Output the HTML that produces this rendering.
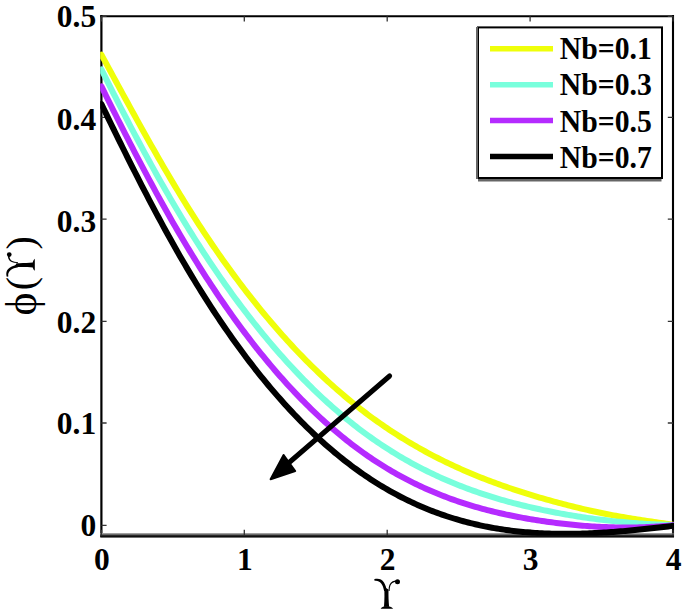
<!DOCTYPE html>
<html><head><meta charset="utf-8"><style>html,body{margin:0;padding:0;background:#fff;}svg{display:block;}</style></head>
<body><svg width="685" height="614" viewBox="0 0 685 614">
<rect width="685" height="614" fill="#fff"/>
<defs><clipPath id="ax"><rect x="100.2" y="16.3" width="573.8" height="519.4"/></clipPath></defs>
<g fill="none" stroke="#000">
<line x1="101.40" y1="15" x2="101.40" y2="537" stroke-width="2.2"/>
<line x1="673" y1="15" x2="673" y2="537" stroke-width="2.1"/>
<line x1="100.3" y1="16.3" x2="674" y2="16.3" stroke-width="2.1"/>
</g>
<rect x="100.3" y="533" width="573.7" height="1" fill="#a0a0a0"/>
<rect x="100.3" y="534" width="573.7" height="1" fill="#6a6a6a"/>
<rect x="100.3" y="535" width="573.7" height="1" fill="#2a2a2a"/>
<rect x="100.3" y="536" width="573.7" height="1" fill="#0e0e0e"/>
<rect x="100.3" y="537" width="573.7" height="1" fill="#707070"/>
<path d="M101.40 525.40H106.60 M673.00 525.40H667.80 M101.40 423.00H106.60 M673.00 423.00H667.80 M101.40 321.30H106.60 M673.00 321.30H667.80 M101.40 219.10H106.60 M673.00 219.10H667.80 M101.40 117.30H106.60 M673.00 117.30H667.80 M101.40 16.30H106.60 M673.00 16.30H667.80 M101.40 535.00V529.80 M101.40 16.30V21.50 M244.30 535.00V529.80 M244.30 16.30V21.50 M387.20 535.00V529.80 M387.20 16.30V21.50 M530.10 535.00V529.80 M530.10 16.30V21.50 M673.00 535.00V529.80 M673.00 16.30V21.50" stroke="#333" stroke-width="1.3" fill="none"/>
<g clip-path="url(#ax)" fill="none" stroke-width="6" stroke-linejoin="round" stroke-linecap="round">
<polyline points="101.40,54.67 103.78,59.06 106.16,63.44 108.55,67.83 110.93,72.21 113.31,76.59 115.69,80.97 118.07,85.35 120.45,89.72 122.84,94.09 125.22,98.45 127.60,102.80 129.98,107.14 132.36,111.47 134.74,115.79 137.12,120.10 139.51,124.40 141.89,128.68 144.27,132.95 146.65,137.20 149.03,141.44 151.42,145.65 153.80,149.85 156.18,154.03 158.56,158.19 160.94,162.32 163.32,166.44 165.71,170.52 168.09,174.59 170.47,178.63 172.85,182.64 175.23,186.62 177.61,190.57 180.00,194.49 182.38,198.39 184.76,202.25 187.14,206.08 189.52,209.88 191.90,213.65 194.29,217.39 196.67,221.09 199.05,224.77 201.43,228.42 203.81,232.04 206.19,235.62 208.58,239.18 210.96,242.71 213.34,246.20 215.72,249.67 218.10,253.11 220.48,256.52 222.87,259.90 225.25,263.25 227.63,266.57 230.01,269.87 232.39,273.13 234.77,276.36 237.16,279.57 239.54,282.75 241.92,285.90 244.30,289.02 246.68,292.11 249.06,295.17 251.45,298.21 253.83,301.22 256.21,304.20 258.59,307.15 260.97,310.08 263.35,312.98 265.74,315.85 268.12,318.69 270.50,321.50 272.88,324.29 275.26,327.05 277.64,329.79 280.02,332.50 282.41,335.18 284.79,337.83 287.17,340.46 289.55,343.06 291.93,345.64 294.32,348.19 296.70,350.71 299.08,353.21 301.46,355.68 303.84,358.12 306.22,360.54 308.61,362.94 310.99,365.31 313.37,367.65 315.75,369.97 318.13,372.26 320.51,374.53 322.89,376.77 325.28,378.99 327.66,381.19 330.04,383.36 332.42,385.50 334.80,387.62 337.19,389.72 339.57,391.79 341.95,393.84 344.33,395.86 346.71,397.86 349.09,399.84 351.48,401.79 353.86,403.72 356.24,405.62 358.62,407.51 361.00,409.36 363.38,411.20 365.76,413.01 368.15,414.80 370.53,416.57 372.91,418.32 375.29,420.04 377.67,421.74 380.06,423.42 382.44,425.08 384.82,426.72 387.20,428.33 389.58,429.93 391.96,431.50 394.35,433.06 396.73,434.59 399.11,436.10 401.49,437.60 403.87,439.07 406.25,440.53 408.63,441.97 411.02,443.38 413.40,444.78 415.78,446.16 418.16,447.52 420.54,448.87 422.93,450.19 425.31,451.50 427.69,452.79 430.07,454.06 432.45,455.32 434.83,456.56 437.22,457.78 439.60,458.99 441.98,460.18 444.36,461.35 446.74,462.51 449.12,463.65 451.50,464.78 453.89,465.89 456.27,466.98 458.65,468.07 461.03,469.13 463.41,470.19 465.80,471.22 468.18,472.25 470.56,473.26 472.94,474.26 475.32,475.24 477.70,476.21 480.09,477.17 482.47,478.11 484.85,479.05 487.23,479.97 489.61,480.87 491.99,481.77 494.38,482.65 496.76,483.53 499.14,484.39 501.52,485.24 503.90,486.08 506.28,486.91 508.67,487.72 511.05,488.53 513.43,489.33 515.81,490.12 518.19,490.90 520.57,491.67 522.96,492.43 525.34,493.18 527.72,493.92 530.10,494.65 532.48,495.38 534.86,496.10 537.25,496.81 539.63,497.51 542.01,498.20 544.39,498.89 546.77,499.56 549.15,500.24 551.54,500.90 553.92,501.55 556.30,502.20 558.68,502.84 561.06,503.47 563.44,504.10 565.83,504.72 568.21,505.33 570.59,505.93 572.97,506.52 575.35,507.10 577.73,507.68 580.12,508.25 582.50,508.81 584.88,509.36 587.26,509.91 589.64,510.45 592.02,510.97 594.41,511.49 596.79,512.01 599.17,512.51 601.55,513.01 603.93,513.49 606.31,513.97 608.70,514.44 611.08,514.90 613.46,515.36 615.84,515.80 618.22,516.24 620.60,516.67 622.99,517.08 625.37,517.50 627.75,517.90 630.13,518.29 632.51,518.68 634.89,519.05 637.27,519.42 639.66,519.79 642.04,520.15 644.42,520.50 646.80,520.85 649.18,521.21 651.57,521.55 653.95,521.90 656.33,522.25 658.71,522.60 661.09,522.96 663.47,523.32 665.86,523.68 668.24,524.05 670.62,524.42 673.00,524.80" stroke="#EFFF0A"/>
<polyline points="101.40,69.46 103.78,74.21 106.16,78.95 108.55,83.68 110.93,88.38 113.31,93.07 115.69,97.73 118.07,102.38 120.45,107.00 122.84,111.61 125.22,116.19 127.60,120.76 129.98,125.30 132.36,129.82 134.74,134.31 137.12,138.78 139.51,143.23 141.89,147.66 144.27,152.06 146.65,156.43 149.03,160.78 151.42,165.10 153.80,169.40 156.18,173.67 158.56,177.91 160.94,182.13 163.32,186.31 165.71,190.47 168.09,194.60 170.47,198.70 172.85,202.77 175.23,206.81 177.61,210.82 180.00,214.79 182.38,218.74 184.76,222.65 187.14,226.53 189.52,230.38 191.90,234.20 194.29,237.99 196.67,241.74 199.05,245.47 201.43,249.16 203.81,252.82 206.19,256.46 208.58,260.06 210.96,263.63 213.34,267.17 215.72,270.67 218.10,274.15 220.48,277.60 222.87,281.02 225.25,284.41 227.63,287.76 230.01,291.09 232.39,294.39 234.77,297.65 237.16,300.89 239.54,304.10 241.92,307.28 244.30,310.43 246.68,313.55 249.06,316.64 251.45,319.70 253.83,322.73 256.21,325.73 258.59,328.70 260.97,331.65 263.35,334.56 265.74,337.45 268.12,340.31 270.50,343.14 272.88,345.94 275.26,348.71 277.64,351.45 280.02,354.17 282.41,356.86 284.79,359.52 287.17,362.15 289.55,364.75 291.93,367.33 294.32,369.87 296.70,372.40 299.08,374.89 301.46,377.35 303.84,379.79 306.22,382.20 308.61,384.59 310.99,386.94 313.37,389.27 315.75,391.57 318.13,393.85 320.51,396.10 322.89,398.32 325.28,400.52 327.66,402.68 330.04,404.83 332.42,406.94 334.80,409.03 337.19,411.10 339.57,413.13 341.95,415.15 344.33,417.13 346.71,419.09 349.09,421.03 351.48,422.93 353.86,424.82 356.24,426.68 358.62,428.51 361.00,430.31 363.38,432.10 365.76,433.85 368.15,435.58 370.53,437.29 372.91,438.97 375.29,440.63 377.67,442.27 380.06,443.88 382.44,445.47 384.82,447.03 387.20,448.57 389.58,450.09 391.96,451.59 394.35,453.06 396.73,454.52 399.11,455.95 401.49,457.35 403.87,458.74 406.25,460.11 408.63,461.45 411.02,462.78 413.40,464.08 415.78,465.36 418.16,466.62 420.54,467.87 422.93,469.09 425.31,470.29 427.69,471.48 430.07,472.64 432.45,473.79 434.83,474.91 437.22,476.02 439.60,477.11 441.98,478.18 444.36,479.24 446.74,480.28 449.12,481.30 451.50,482.30 453.89,483.28 456.27,484.25 458.65,485.21 461.03,486.14 463.41,487.06 465.80,487.97 468.18,488.85 470.56,489.73 472.94,490.58 475.32,491.43 477.70,492.26 480.09,493.07 482.47,493.87 484.85,494.65 487.23,495.42 489.61,496.18 491.99,496.93 494.38,497.66 496.76,498.37 499.14,499.08 501.52,499.77 503.90,500.45 506.28,501.12 508.67,501.77 511.05,502.42 513.43,503.05 515.81,503.67 518.19,504.28 520.57,504.88 522.96,505.47 525.34,506.04 527.72,506.61 530.10,507.17 532.48,507.72 534.86,508.26 537.25,508.78 539.63,509.30 542.01,509.82 544.39,510.32 546.77,510.81 549.15,511.29 551.54,511.77 553.92,512.24 556.30,512.69 558.68,513.14 561.06,513.58 563.44,514.02 565.83,514.44 568.21,514.85 570.59,515.26 572.97,515.66 575.35,516.05 577.73,516.43 580.12,516.80 582.50,517.16 584.88,517.52 587.26,517.86 589.64,518.20 592.02,518.53 594.41,518.85 596.79,519.17 599.17,519.47 601.55,519.77 603.93,520.06 606.31,520.34 608.70,520.61 611.08,520.88 613.46,521.13 615.84,521.38 618.22,521.62 620.60,521.85 622.99,522.08 625.37,522.29 627.75,522.50 630.13,522.70 632.51,522.90 634.89,523.08 637.27,523.26 639.66,523.43 642.04,523.59 644.42,523.74 646.80,523.89 649.18,524.03 651.57,524.16 653.95,524.28 656.33,524.40 658.71,524.51 661.09,524.61 663.47,524.70 665.86,524.79 668.24,524.87 670.62,524.94 673.00,525.00" stroke="#78FFDC"/>
<polyline points="101.40,86.39 103.78,91.19 106.16,95.99 108.55,100.77 110.93,105.53 113.31,110.29 115.69,115.02 118.07,119.74 120.45,124.45 122.84,129.13 125.22,133.80 127.60,138.45 129.98,143.08 132.36,147.70 134.74,152.29 137.12,156.86 139.51,161.40 141.89,165.93 144.27,170.43 146.65,174.91 149.03,179.36 151.42,183.79 153.80,188.19 156.18,192.56 158.56,196.91 160.94,201.23 163.32,205.52 165.71,209.78 168.09,214.02 170.47,218.22 172.85,222.39 175.23,226.53 177.61,230.63 180.00,234.70 182.38,238.74 184.76,242.75 187.14,246.72 189.52,250.66 191.90,254.56 194.29,258.43 196.67,262.27 199.05,266.07 201.43,269.84 203.81,273.58 206.19,277.28 208.58,280.95 210.96,284.59 213.34,288.20 215.72,291.77 218.10,295.31 220.48,298.82 222.87,302.29 225.25,305.74 227.63,309.15 230.01,312.52 232.39,315.87 234.77,319.18 237.16,322.47 239.54,325.72 241.92,328.93 244.30,332.12 246.68,335.28 249.06,338.40 251.45,341.49 253.83,344.55 256.21,347.58 258.59,350.58 260.97,353.54 263.35,356.48 265.74,359.39 268.12,362.26 270.50,365.10 272.88,367.91 275.26,370.70 277.64,373.45 280.02,376.17 282.41,378.86 284.79,381.52 287.17,384.15 289.55,386.75 291.93,389.32 294.32,391.86 296.70,394.37 299.08,396.85 301.46,399.30 303.84,401.72 306.22,404.11 308.61,406.47 310.99,408.81 313.37,411.11 315.75,413.38 318.13,415.63 320.51,417.84 322.89,420.03 325.28,422.19 327.66,424.32 330.04,426.42 332.42,428.49 334.80,430.54 337.19,432.55 339.57,434.54 341.95,436.50 344.33,438.43 346.71,440.33 349.09,442.20 351.48,444.05 353.86,445.87 356.24,447.66 358.62,449.42 361.00,451.16 363.38,452.87 365.76,454.55 368.15,456.20 370.53,457.83 372.91,459.43 375.29,461.00 377.67,462.55 380.06,464.08 382.44,465.57 384.82,467.05 387.20,468.49 389.58,469.92 391.96,471.32 394.35,472.69 396.73,474.04 399.11,475.37 401.49,476.67 403.87,477.95 406.25,479.21 408.63,480.44 411.02,481.65 413.40,482.84 415.78,484.01 418.16,485.16 420.54,486.28 422.93,487.38 425.31,488.47 427.69,489.53 430.07,490.57 432.45,491.59 434.83,492.59 437.22,493.57 439.60,494.53 441.98,495.47 444.36,496.40 446.74,497.30 449.12,498.19 451.50,499.06 453.89,499.91 456.27,500.74 458.65,501.55 461.03,502.35 463.41,503.13 465.80,503.90 468.18,504.64 470.56,505.37 472.94,506.09 475.32,506.79 477.70,507.47 480.09,508.14 482.47,508.79 484.85,509.43 487.23,510.06 489.61,510.67 491.99,511.26 494.38,511.85 496.76,512.41 499.14,512.97 501.52,513.51 503.90,514.04 506.28,514.56 508.67,515.06 511.05,515.56 513.43,516.04 515.81,516.51 518.19,516.97 520.57,517.41 522.96,517.85 525.34,518.28 527.72,518.69 530.10,519.10 532.48,519.49 534.86,519.88 537.25,520.26 539.63,520.62 542.01,520.98 544.39,521.33 546.77,521.68 549.15,522.01 551.54,522.33 553.92,522.65 556.30,522.95 558.68,523.25 561.06,523.53 563.44,523.81 565.83,524.08 568.21,524.34 570.59,524.59 572.97,524.83 575.35,525.06 577.73,525.28 580.12,525.49 582.50,525.68 584.88,525.87 587.26,526.05 589.64,526.22 592.02,526.38 594.41,526.53 596.79,526.67 599.17,526.80 601.55,526.92 603.93,527.03 606.31,527.12 608.70,527.21 611.08,527.29 613.46,527.35 615.84,527.40 618.22,527.45 620.60,527.48 622.99,527.50 625.37,527.51 627.75,527.51 630.13,527.49 632.51,527.47 634.89,527.43 637.27,527.38 639.66,527.33 642.04,527.26 644.42,527.17 646.80,527.08 649.18,526.97 651.57,526.85 653.95,526.72 656.33,526.58 658.71,526.43 661.09,526.26 663.47,526.08 665.86,525.89 668.24,525.69 670.62,525.47 673.00,525.24" stroke="#B52BFF"/>
<polyline points="101.40,104.03 103.78,108.97 106.16,113.90 108.55,118.82 110.93,123.72 113.31,128.61 115.69,133.48 118.07,138.33 120.45,143.17 122.84,147.99 125.22,152.78 127.60,157.56 129.98,162.32 132.36,167.05 134.74,171.77 137.12,176.46 139.51,181.12 141.89,185.77 144.27,190.38 146.65,194.97 149.03,199.54 151.42,204.08 153.80,208.59 156.18,213.07 158.56,217.52 160.94,221.94 163.32,226.33 165.71,230.69 168.09,235.01 170.47,239.31 172.85,243.57 175.23,247.79 177.61,251.98 180.00,256.13 182.38,260.25 184.76,264.33 187.14,268.38 189.52,272.38 191.90,276.36 194.29,280.29 196.67,284.19 199.05,288.05 201.43,291.88 203.81,295.67 206.19,299.43 208.58,303.15 210.96,306.84 213.34,310.49 215.72,314.10 218.10,317.68 220.48,321.23 222.87,324.74 225.25,328.22 227.63,331.66 230.01,335.06 232.39,338.44 234.77,341.77 237.16,345.08 239.54,348.35 241.92,351.59 244.30,354.79 246.68,357.96 249.06,361.09 251.45,364.20 253.83,367.26 256.21,370.30 258.59,373.30 260.97,376.27 263.35,379.21 265.74,382.11 268.12,384.98 270.50,387.82 272.88,390.63 275.26,393.40 277.64,396.14 280.02,398.85 282.41,401.53 284.79,404.18 287.17,406.79 289.55,409.37 291.93,411.92 294.32,414.44 296.70,416.93 299.08,419.39 301.46,421.81 303.84,424.21 306.22,426.57 308.61,428.91 310.99,431.21 313.37,433.48 315.75,435.72 318.13,437.94 320.51,440.12 322.89,442.27 325.28,444.39 327.66,446.48 330.04,448.54 332.42,450.58 334.80,452.58 337.19,454.55 339.57,456.50 341.95,458.41 344.33,460.30 346.71,462.15 349.09,463.98 351.48,465.78 353.86,467.55 356.24,469.29 358.62,471.01 361.00,472.69 363.38,474.35 365.76,475.98 368.15,477.58 370.53,479.16 372.91,480.71 375.29,482.23 377.67,483.72 380.06,485.19 382.44,486.63 384.82,488.04 387.20,489.43 389.58,490.79 391.96,492.12 394.35,493.43 396.73,494.72 399.11,495.98 401.49,497.22 403.87,498.43 406.25,499.61 408.63,500.77 411.02,501.91 413.40,503.03 415.78,504.12 418.16,505.18 420.54,506.23 422.93,507.25 425.31,508.24 427.69,509.22 430.07,510.17 432.45,511.10 434.83,512.01 437.22,512.89 439.60,513.76 441.98,514.60 444.36,515.42 446.74,516.22 449.12,517.00 451.50,517.76 453.89,518.50 456.27,519.22 458.65,519.92 461.03,520.59 463.41,521.25 465.80,521.89 468.18,522.51 470.56,523.11 472.94,523.70 475.32,524.26 477.70,524.80 480.09,525.33 482.47,525.84 484.85,526.33 487.23,526.80 489.61,527.26 491.99,527.70 494.38,528.12 496.76,528.52 499.14,528.91 501.52,529.28 503.90,529.64 506.28,529.98 508.67,530.30 511.05,530.61 513.43,530.90 515.81,531.18 518.19,531.44 520.57,531.68 522.96,531.92 525.34,532.13 527.72,532.34 530.10,532.53 532.48,532.70 534.86,532.87 537.25,533.01 539.63,533.15 542.01,533.27 544.39,533.38 546.77,533.48 549.15,533.56 551.54,533.64 553.92,533.70 556.30,533.75 558.68,533.78 561.06,533.81 563.44,533.82 565.83,533.83 568.21,533.82 570.59,533.80 572.97,533.77 575.35,533.73 577.73,533.69 580.12,533.63 582.50,533.56 584.88,533.48 587.26,533.39 589.64,533.30 592.02,533.19 594.41,533.08 596.79,532.96 599.17,532.83 601.55,532.69 603.93,532.55 606.31,532.39 608.70,532.23 611.08,532.06 613.46,531.89 615.84,531.71 618.22,531.52 620.60,531.33 622.99,531.13 625.37,530.92 627.75,530.71 630.13,530.49 632.51,530.26 634.89,530.04 637.27,529.80 639.66,529.56 642.04,529.32 644.42,529.07 646.80,528.82 649.18,528.57 651.57,528.31 653.95,528.05 656.33,527.78 658.71,527.51 661.09,527.24 663.47,526.96 665.86,526.68 668.24,526.40 670.62,526.12 673.00,525.84" stroke="#000000"/>
</g>
<text x="96.2" y="535.8" font-family="Liberation Serif" font-weight="bold" font-size="31.5" text-anchor="end">0</text>
<text x="96.2" y="433.7" font-family="Liberation Serif" font-weight="bold" font-size="31.5" text-anchor="end">0.1</text>
<text x="96.2" y="333.2" font-family="Liberation Serif" font-weight="bold" font-size="31.5" text-anchor="end">0.2</text>
<text x="96.2" y="231.5" font-family="Liberation Serif" font-weight="bold" font-size="31.5" text-anchor="end">0.3</text>
<text x="96.2" y="129.7" font-family="Liberation Serif" font-weight="bold" font-size="31.5" text-anchor="end">0.4</text>
<text x="96.2" y="26.6" font-family="Liberation Serif" font-weight="bold" font-size="31.5" text-anchor="end">0.5</text>
<text x="101.9" y="569.5" font-family="Liberation Serif" font-weight="bold" font-size="31.5" text-anchor="middle">0</text>
<text x="244.8" y="569.5" font-family="Liberation Serif" font-weight="bold" font-size="31.5" text-anchor="middle">1</text>
<text x="387.7" y="569.5" font-family="Liberation Serif" font-weight="bold" font-size="31.5" text-anchor="middle">2</text>
<text x="530.6" y="569.5" font-family="Liberation Serif" font-weight="bold" font-size="31.5" text-anchor="middle">3</text>
<text x="673.5" y="569.5" font-family="Liberation Serif" font-weight="bold" font-size="31.5" text-anchor="middle">4</text>
<g stroke="#000" fill="#000">
<line x1="389.6" y1="376" x2="288" y2="463.5" stroke-width="5" stroke-linecap="round"/>
<path d="M270.6 479.2 L283.6 455 L295.2 471 Z" stroke-width="2" stroke-linejoin="round"/>
</g>
<g>
<rect x="478" y="27.4" width="184" height="150.6" fill="#fff" stroke="#000" stroke-width="2"/>
<rect x="476" y="27" width="2" height="152" fill="#666"/>
<rect x="478" y="179" width="183.5" height="2.5" fill="#666"/>
<line x1="490" y1="48.7" x2="553" y2="48.7" stroke="#EFFF0A" stroke-width="5.5"/>
<text x="559.8" y="59.1" font-family="Liberation Serif" font-weight="bold" font-size="31" textLength="92" lengthAdjust="spacingAndGlyphs">Nb=0.1</text>
<line x1="490" y1="84.7" x2="553" y2="84.7" stroke="#78FFDC" stroke-width="5.5"/>
<text x="559.8" y="95.4" font-family="Liberation Serif" font-weight="bold" font-size="31" textLength="92" lengthAdjust="spacingAndGlyphs">Nb=0.3</text>
<line x1="490" y1="120.6" x2="553" y2="120.6" stroke="#B52BFF" stroke-width="5.5"/>
<text x="559.8" y="131.6" font-family="Liberation Serif" font-weight="bold" font-size="31" textLength="92" lengthAdjust="spacingAndGlyphs">Nb=0.5</text>
<line x1="490" y1="156.6" x2="553" y2="156.6" stroke="#000" stroke-width="5.5"/>
<text x="559.8" y="168.1" font-family="Liberation Serif" font-weight="bold" font-size="31" textLength="92" lengthAdjust="spacingAndGlyphs">Nb=0.7</text>
</g>
<defs><g id="ups" transform="translate(-387 -608.7)">
<path d="M384 606.8 C384.5 600 384.7 593 384.1 587 L388.5 589.5 C388.4 596 388.6 601 389.1 606.8 Z"/>
<path d="M380.6 608.7 C381.8 606.8 384 606.3 386.6 606.3 C389.2 606.3 391.6 606.8 393.2 608.7 Z"/>
<path d="M374.2 579.2 C377.6 578.2 381.6 578.6 384 582.6 C385.4 585 386.5 588 386.8 591 L384.1 591 C383.6 588 382.6 585.2 381.2 583.4 C379.4 581 377 580.4 374.6 580.8 Z"/>
<path d="M388.6 591 C388.4 586 389.8 582.6 392.6 581.2 C394 580.5 395.4 580.4 396.2 580.5 L396.4 582 C394.4 582 392.2 582.6 391 584.4 C390 586 389.6 588.4 389.6 591 Z"/>
<circle cx="397.5" cy="581.8" r="2.5"/>
</g></defs>
<text transform="translate(36.1 315.4) rotate(-90)" font-family="Liberation Serif" font-size="43.5">&#x3D5;</text>
<text transform="translate(33.6 290.35) rotate(-90)" font-family="Liberation Serif" font-size="40">(</text>
<text transform="translate(33.6 249.47) rotate(-90)" font-family="Liberation Serif" font-size="40">)</text>
<use href="#ups" fill="#000" transform="translate(34.8 264.6) rotate(-90) scale(0.95)"/>
<use href="#ups" fill="#000" transform="translate(387 608.7)"/>
</svg></body></html>
